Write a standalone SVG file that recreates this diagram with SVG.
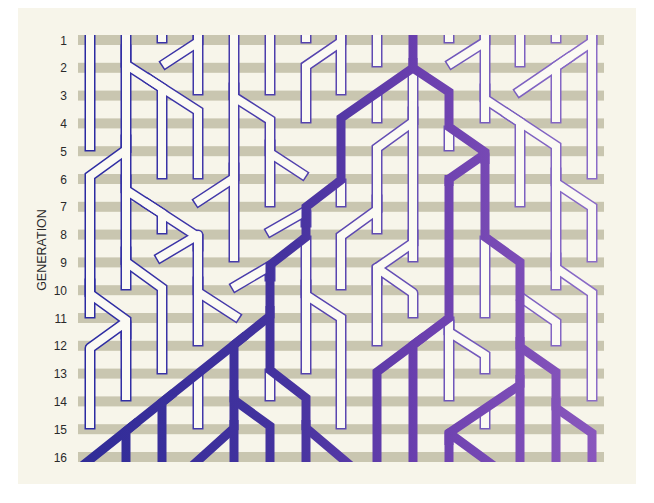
<svg xmlns="http://www.w3.org/2000/svg" width="654" height="503" viewBox="0 0 654 503">
<defs>
<style>
.lbl{font-family:"Liberation Sans",Arial,sans-serif;font-size:12px;fill:#2a2a2a;text-anchor:end}
.gen{font-family:"Liberation Sans",Arial,sans-serif;font-size:12.5px;fill:#2a2a2a;text-anchor:middle}
.stripe{fill:#c9c6b0}
.wo{fill:none;stroke:url(#og);stroke-width:11;stroke-linecap:square;stroke-linejoin:miter}
.wf{fill:none;stroke:#fbfaf3;stroke-width:8;stroke-linecap:square;stroke-linejoin:miter}
.pp{fill:none;stroke:url(#pg);stroke-width:9;stroke-linecap:butt;stroke-linejoin:miter}
.rj{stroke-linejoin:round}
</style>
<linearGradient id="og" gradientUnits="userSpaceOnUse" x1="80" y1="0" x2="600" y2="0">
<stop offset="0" stop-color="#2a2aa2"/><stop offset="0.5" stop-color="#5a46b0"/><stop offset="1" stop-color="#8c6cc8"/>
</linearGradient>
<linearGradient id="pg" gradientUnits="userSpaceOnUse" x1="80" y1="0" x2="600" y2="0">
<stop offset="0" stop-color="#302c98"/><stop offset="0.4" stop-color="#45339f"/><stop offset="0.65" stop-color="#6a3fae"/><stop offset="1" stop-color="#8a58bd"/>
</linearGradient>
<clipPath id="clip"><rect x="0" y="35" width="654" height="427"/></clipPath>
<g id="wp">
<path d="M90,28V146"/>
<path d="M126,28V285"/>
<path d="M126,50V64.5L198,111V174"/>
<path d="M150,80L162,88V174"/>
<path d="M162,28V38"/>
<path d="M198,28V90"/>
<path d="M198,30V42L166,63"/>
<path d="M234,28V257"/>
<path d="M126,140V150L90,176V313"/>
<path d="M234,88V97L270,120V202"/>
<path d="M270,145V153L302,174"/>
<path d="M270,28V90"/>
<path d="M306,28V38"/>
<path d="M341,28V90"/>
<path d="M341,30V42L306,66V118"/>
<path d="M377,28V62"/>
<path d="M377,97V118"/>
<path d="M413,74V257"/>
<path d="M413,112V122L377,148V229"/>
<path d="M377,200V210L341,236V285"/>
<path d="M413,235V243L377,268V341"/>
<path class="rj" d="M377,280V268L413,293V313"/>
<path d="M341,184V202"/>
<path d="M306,241V369"/>
<path d="M306,285V295L341,318V424"/>
<path class="rj" d="M306,222V211L271,231"/>
<path class="rj" d="M270,276V266L236,286"/>
<path d="M234,168V178L199,201"/>
<path d="M126,180V190L198,237V341"/>
<path d="M148,204.4L162,213.5V229"/>
<path class="rj" d="M198,246V235L161,257"/>
<path d="M126,252V262L162,288V369"/>
<path d="M198,282V292L235,316"/>
<path d="M90,284V294L126,320V396"/>
<path class="rj" d="M126,334V322L90,348V424"/>
<path d="M198,378V424"/>
<path d="M270,374V396"/>
<path d="M449,28V38"/>
<path d="M485,28V118"/>
<path d="M485,30V42L452,63"/>
<path d="M485,89V99L556,146V285"/>
<path d="M508,114.3L520,122.2V202"/>
<path d="M520,28V62"/>
<path d="M556,28V38"/>
<path d="M592,28V174"/>
<path d="M592,30V42L520,91"/>
<path d="M568,58.3L556,66.5V118"/>
<path d="M449,131V146"/>
<path d="M485,241V313"/>
<path d="M556,173V183L592,207V257"/>
<path d="M556,258V268L592,293V396"/>
<path d="M523,299L556,322V341"/>
<path d="M449,322V396"/>
<path d="M449,325V332L485,355V369"/>
<path d="M485,413V424"/>
</g>
</defs>
<rect width="654" height="503" fill="#ffffff"/>
<rect x="18" y="8" width="618" height="476" fill="#f7f5ea"/>
<g id="stripes">
<rect class="stripe" x="78" y="35" width="526" height="10"/>
<rect class="stripe" x="78" y="62.8" width="526" height="10"/>
<rect class="stripe" x="78" y="90.6" width="526" height="10"/>
<rect class="stripe" x="78" y="118.4" width="526" height="10"/>
<rect class="stripe" x="78" y="146.2" width="526" height="10"/>
<rect class="stripe" x="78" y="174" width="526" height="10"/>
<rect class="stripe" x="78" y="201.8" width="526" height="10"/>
<rect class="stripe" x="78" y="229.6" width="526" height="10"/>
<rect class="stripe" x="78" y="257.4" width="526" height="10"/>
<rect class="stripe" x="78" y="285.2" width="526" height="10"/>
<rect class="stripe" x="78" y="313" width="526" height="10"/>
<rect class="stripe" x="78" y="340.8" width="526" height="10"/>
<rect class="stripe" x="78" y="368.6" width="526" height="10"/>
<rect class="stripe" x="78" y="396.4" width="526" height="10"/>
<rect class="stripe" x="78" y="424.2" width="526" height="10"/>
<rect class="stripe" x="78" y="452" width="526" height="10"/>
</g>
<g id="labels">
<text class="lbl" x="67" y="44.5">1</text>
<text class="lbl" x="67" y="72.3">2</text>
<text class="lbl" x="67" y="100.1">3</text>
<text class="lbl" x="67" y="127.9">4</text>
<text class="lbl" x="67" y="155.7">5</text>
<text class="lbl" x="67" y="183.5">6</text>
<text class="lbl" x="67" y="211.3">7</text>
<text class="lbl" x="67" y="239.1">8</text>
<text class="lbl" x="67" y="266.9">9</text>
<text class="lbl" x="67" y="294.7">10</text>
<text class="lbl" x="67" y="322.5">11</text>
<text class="lbl" x="67" y="350.3">12</text>
<text class="lbl" x="67" y="378.1">13</text>
<text class="lbl" x="67" y="405.9">14</text>
<text class="lbl" x="67" y="433.7">15</text>
<text class="lbl" x="67" y="461.5">16</text>
<text class="gen" transform="translate(45.5,250) rotate(-90)">GENERATION</text>
</g>
<g id="connectors" clip-path="url(#clip)">
<g id="white-lineages">
<use href="#wp" class="wo"/>
<use href="#wp" class="wf"/>
</g>
<g id="purple-lineage" class="pp">
<path d="M413,28V68L341,118V180L306,207V237L270,265V370L306,398V470"/>
<path d="M306,420V428L351,466"/>
<path d="M270,306V316L82,466"/>
<path d="M246,335.2L234,344.8V470"/>
<path d="M174,392.8L162,402.4V470"/>
<path d="M138,421.6L126,431.2V470"/>
<path d="M234,390V400L270,426V470"/>
<path d="M234,420V428L192,466"/>
<path d="M413,58V68L449,92V127L485,152V237L520,262V470"/>
<path class="rj" d="M485,164V154L449,179V186"/>
<path d="M449,175V318L377,372V470"/>
<path d="M425,336L413,345V470"/>
<path d="M520,337V347L556,372V470"/>
<path d="M556,398V408L592,433V470"/>
<path d="M520,375V385L449,433V470"/>
<path class="rj" d="M449,445V433L494,466"/>
</g>
</g>
</svg>
